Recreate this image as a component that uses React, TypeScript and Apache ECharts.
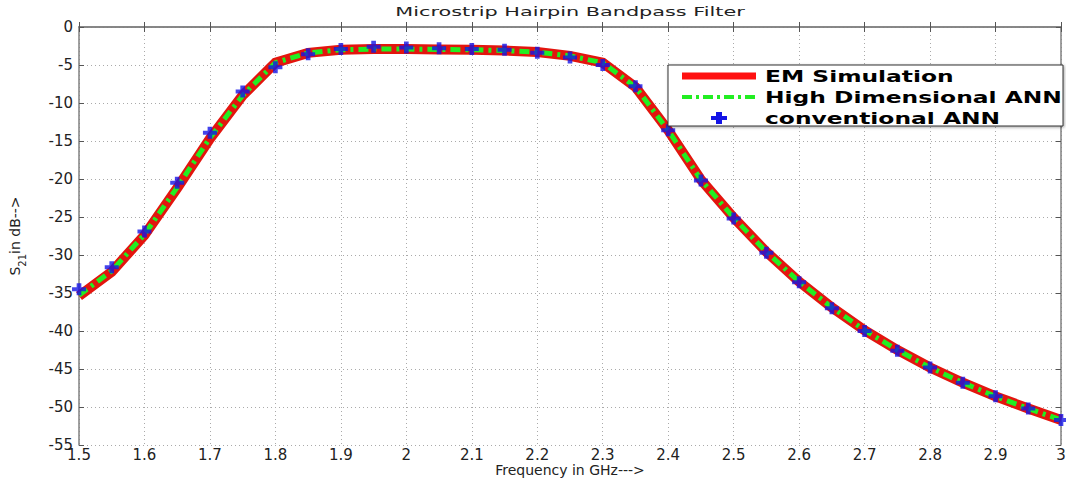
import React, { useEffect, useRef } from "react";
import * as echarts from "echarts";

const freq = [1.5, 1.55, 1.6, 1.65, 1.7, 1.75, 1.8, 1.85, 1.9, 1.95, 2.0, 2.05, 2.1, 2.15, 2.2, 2.25, 2.3, 2.35, 2.4, 2.45, 2.5, 2.55, 2.6, 2.65, 2.7, 2.75, 2.8, 2.85, 2.9, 2.95, 3.0];
const emSim = [-35.4, -32.2, -27.4, -21.2, -14.7, -9.0, -4.7, -3.4, -3.0, -2.9, -2.9, -2.95, -3.0, -3.1, -3.3, -3.8, -4.7, -7.9, -13.6, -20.1, -25.1, -29.6, -33.5, -36.9, -39.9, -42.5, -44.8, -46.8, -48.6, -50.2, -51.7];
const hdAnn = [-35.3, -32.1, -27.3, -21.1, -14.6, -9.0, -4.7, -3.4, -3.0, -2.9, -2.9, -2.95, -3.0, -3.1, -3.3, -3.8, -4.7, -7.9, -13.6, -20.1, -25.1, -29.6, -33.5, -36.9, -39.9, -42.5, -44.8, -46.8, -48.6, -50.2, -51.7];
const convAnn = [-34.5, -31.6, -26.9, -20.5, -13.9, -8.5, -5.3, -3.6, -2.9, -2.6, -2.7, -2.8, -2.9, -3.0, -3.4, -4.0, -5.0, -7.8, -13.6, -20.2, -25.2, -29.7, -33.6, -37.0, -40.0, -42.6, -44.8, -46.8, -48.6, -50.2, -51.7];

const titleText = "Microstrip Hairpin Bandpass Filter";
const xName = "Frequency in GHz--->";
const legendNames = ["EM Simulation", "High Dimensional ANN", "conventional ANN"];

const FONT = "DejaVu Sans";
const PLUS = "path://M4,0H8V4H12V8H8V12H4V8H0V4H4Z";

export default function App() {
  const ref = useRef<HTMLDivElement>(null);
  useEffect(() => {
    document.body.style.margin = "0";
    const chart = echarts.init(ref.current!, null, { renderer: "svg" });
    const pair = (ys: number[]) => freq.map((f, i) => [f, ys[i]]);
    const axisLine = { show: true, lineStyle: { color: "#808080", width: 1.5 } };
    const axisTick = { show: true, inside: true, length: 5, lineStyle: { color: "#555" } };
    const gridLine = { show: true, lineStyle: { color: "#aaa", type: [1, 3], width: 1 } };
    chart.setOption({
      animation: false,
      backgroundColor: "#fff",
      grid: { left: 79, right: 5, top: 27, bottom: 33, containLabel: false, outerBoundsMode: "none" },
      xAxis: [
        {
          type: "value",
          min: 1.5,
          max: 3,
          interval: 0.1,
          position: "bottom",
          axisLine,
          axisTick,
          axisLabel: { color: "#222", fontFamily: FONT, fontSize: 15, lineHeight: 14, margin: 3 },
          splitLine: gridLine,
          name: xName,
          nameLocation: "middle",
          nameGap: 25,
          nameMoveOverlap: false,
          nameTextStyle: { color: "#222", fontFamily: FONT, fontSize: 14, lineHeight: 13, verticalAlign: "middle" },
        },
        {
          type: "value",
          min: 1.5,
          max: 3,
          interval: 0.1,
          position: "top",
          axisLine,
          axisTick,
          axisLabel: { show: false },
          splitLine: { show: false },
        },
      ],
      yAxis: [
        {
          type: "value",
          min: -55,
          max: 0,
          interval: 5,
          position: "left",
          axisLine,
          axisTick,
          axisLabel: { color: "#222", fontFamily: FONT, fontSize: 15, lineHeight: 12, margin: 6 },
          splitLine: gridLine,
          name: "{a|S}{b|21}{a|in dB-->}",
          nameLocation: "middle",
          nameGap: 64,
          nameRotate: 90,
          nameMoveOverlap: false,
          nameTextStyle: {
            verticalAlign: "middle",
            rich: {
              a: { fontFamily: FONT, fontSize: 14, color: "#222", lineHeight: 24, verticalAlign: "middle" },
              b: { fontFamily: FONT, fontSize: 10, color: "#222", lineHeight: 24, verticalAlign: "bottom" },
            },
          },
        },
        {
          type: "value",
          min: -55,
          max: 0,
          interval: 5,
          position: "right",
          axisLine,
          axisTick,
          axisLabel: { show: false },
          splitLine: { show: false },
        },
      ],
      series: [
        {
          name: legendNames[0],
          type: "line",
          data: pair(emSim),
          showSymbol: false,
          symbol: "none",
          lineStyle: { color: "#e3150e", width: 10, cap: "butt", join: "miter" },
          z: 2,
        },
        {
          name: legendNames[1],
          type: "line",
          data: pair(hdAnn),
          showSymbol: false,
          symbol: "none",
          lineStyle: { color: "#22ee22", width: 5, type: [10, 5, 3, 5], cap: "butt" },
          z: 3,
        },
        {
          name: legendNames[2],
          type: "scatter",
          data: pair(convAnn),
          symbol: PLUS,
          symbolSize: [14, 12],
          itemStyle: { color: "#1414e6" },
          z: 4,
        },
      ],
      graphic: [
        {
          type: "text",
          x: 570,
          y: 12,
          scaleX: 1.6,
          style: { text: titleText, fontFamily: FONT, fontSize: 13, fill: "#222", align: "center", verticalAlign: "middle" },
        },
        {
          type: "rect",
          shape: { x: 668, y: 65, width: 395, height: 61 },
          style: { fill: "#fff", stroke: "#333", lineWidth: 1, shadowBlur: 3, shadowColor: "rgba(0,0,0,0.35)", shadowOffsetX: 1, shadowOffsetY: 1 },
          z: 10,
        },
        {
          type: "line",
          shape: { x1: 682, y1: 76, x2: 756, y2: 76 },
          style: { stroke: "#ff1010", lineWidth: 7 },
          z: 11,
        },
        {
          type: "line",
          shape: { x1: 682, y1: 97, x2: 756, y2: 97 },
          style: { stroke: "#22ee22", lineWidth: 4, lineDash: [10, 4, 3, 4] },
          z: 11,
        },
        {
          type: "polygon",
          shape: { points: [[716, 112], [722, 112], [722, 116], [727, 116], [727, 120], [722, 120], [722, 124], [716, 124], [716, 120], [711, 120], [711, 116], [716, 116]] },
          style: { fill: "#1414e6" },
          z: 11,
        },
        ...legendNames.map((t, i) => ({
          type: "text",
          x: 765,
          y: 76 + i * 21,
          scaleX: 1.46,
          style: { text: t, fontFamily: FONT, fontSize: 16, fontWeight: "bold", fill: "#000", align: "left", verticalAlign: "middle" },
          z: 12,
        })),
      ],
    });
    return () => chart.dispose();
  }, []);
  return <div ref={ref} style={{ width: 1066, height: 478 }} />;
}
